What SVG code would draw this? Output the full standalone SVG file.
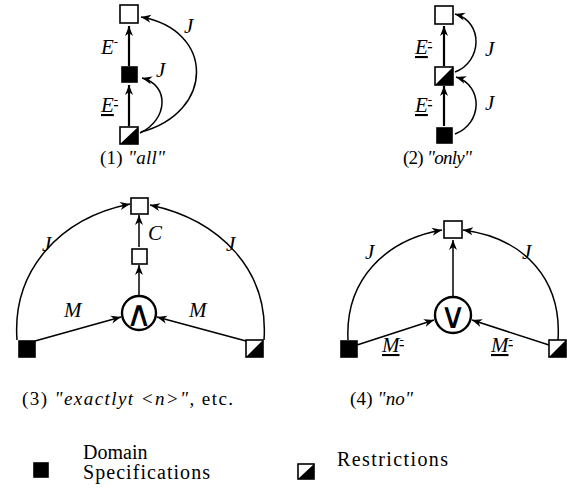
<svg xmlns="http://www.w3.org/2000/svg" width="567" height="496" viewBox="0 0 567 496">
<defs>
<marker id="ah" markerUnits="userSpaceOnUse" markerWidth="12" markerHeight="10" refX="10" refY="4" orient="auto" viewBox="0 0 12 8">
<path d="M0,0 L10,4 L0,8 L3,4 Z" fill="#000"/>
</marker>
<pattern id="half" width="1" height="1" patternContentUnits="objectBoundingBox">
<path d="M0,1 L1,0 L1,1 Z" fill="#000"/>
</pattern>
</defs>
<style>
.sq{fill:#fff;stroke:#000;stroke-width:1.6}
.bk{fill:#000;stroke:#000;stroke-width:1.6}
.hf{fill:url(#half);stroke:#000;stroke-width:1.6}
.ln{fill:none;stroke:#000;stroke-width:1.5;marker-end:url(#ah)}
.th{fill:none;stroke:#000;stroke-width:2.2;marker-end:url(#ah)}
.lb{font-family:"Liberation Serif",serif;font-style:italic;font-size:21px;fill:#000}
.cap{font-family:"Liberation Serif",serif;font-size:19px;fill:#000}
.leg{font-family:"Liberation Serif",serif;font-size:20px;fill:#000}
.it{font-style:italic}
.ci{fill:#fff;stroke:#000;stroke-width:2.4}
.op{font-family:"DejaVu Sans",sans-serif;font-size:36px;fill:#000;text-anchor:middle}
</style>
<g id="connectors">
<line class="th" x1="129" y1="66" x2="129" y2="26"/>
<line class="th" x1="129" y1="126" x2="129" y2="85"/>
<path class="ln" d="M141,132 C215,112 215,30 141,17"/>
<path class="ln" d="M140,133 C168,120 170,85 142,78"/>
<line class="th" x1="444" y1="66" x2="444" y2="26"/>
<line class="th" x1="444" y1="126" x2="444" y2="86"/>
<path class="ln" d="M455,72 C482,62 484,22 455,14"/>
<path class="ln" d="M455,134 C482,124 484,86 456,77"/>
<line class="ln" x1="139" y1="247" x2="139" y2="215"/>
<line class="ln" x1="139" y1="296" x2="139" y2="265"/>
<line class="ln" x1="35" y1="341" x2="121" y2="317"/>
<line class="ln" x1="246" y1="341" x2="157" y2="317"/>
<path class="ln" d="M17,340 C12,270 60,218 130,204"/>
<path class="ln" d="M264,340 C269,270 220,220 150,205"/>
<line class="ln" x1="453" y1="297" x2="453" y2="240"/>
<line class="ln" x1="357" y1="345" x2="434" y2="320"/>
<line class="ln" x1="549" y1="345" x2="472" y2="320"/>
<path class="ln" d="M348,340 C345,280 385,240 442,230"/>
<path class="ln" d="M558,340 C562,280 525,238 463,230"/>
</g>
<g id="p1-top"><rect class="sq" x="120" y="5" width="18" height="18"/></g>
<g id="p1-mid"><rect class="bk" x="122" y="67" width="15" height="15"/></g>
<g id="p1-bot"><rect class="hf" x="120" y="127" width="18" height="17"/></g>
<g id="p2-top"><rect class="sq" x="435" y="6" width="18" height="18"/></g>
<g id="p2-mid"><rect class="hf" x="435" y="67" width="18" height="18"/></g>
<g id="p2-bot"><rect class="bk" x="437" y="128" width="15" height="15"/></g>
<g id="p3-top"><rect class="sq" x="131" y="198" width="17" height="16"/></g>
<g id="p3-mid"><rect class="sq" x="132" y="249" width="15" height="15"/></g>
<g id="p3-and"><circle class="ci" cx="139" cy="313" r="17"/><text class="op" x="139" y="326">∧</text></g>
<g id="p3-left"><rect class="bk" x="19" y="341" width="16" height="16"/></g>
<g id="p3-right"><rect class="hf" x="246" y="340" width="17" height="17"/></g>
<g id="p4-top"><rect class="sq" x="444" y="221" width="18" height="17"/></g>
<g id="p4-or"><circle class="ci" cx="453" cy="315" r="18"/><text class="op" x="453" y="328">∨</text></g>
<g id="p4-left"><rect class="bk" x="341" y="341" width="16" height="16"/></g>
<g id="p4-right"><rect class="hf" x="549" y="340" width="17" height="17"/></g>
<g id="labels">
<text class="lb" x="101" y="54" font-size="19">E<tspan dy="-8" font-size="13" font-style="normal">-</tspan></text>
<text class="lb" x="101" y="112" font-size="19" text-decoration="underline">E<tspan dy="-8" font-size="13" font-style="normal">-</tspan></text>
<text class="lb" x="184" y="33">J</text>
<text class="lb" x="156" y="77">J</text>
<text class="lb" x="415" y="54" font-size="19" text-decoration="underline">E<tspan dy="-8" font-size="13" font-style="normal">-</tspan></text>
<text class="lb" x="415" y="112" font-size="19" text-decoration="underline">E<tspan dy="-8" font-size="13" font-style="normal">-</tspan></text>
<text class="lb" x="485" y="56">J</text>
<text class="lb" x="485" y="110">J</text>
<text class="lb" x="148" y="240">C</text>
<text class="lb" x="42" y="251">J</text>
<text class="lb" x="226" y="251">J</text>
<text class="lb" x="64" y="317">M</text>
<text class="lb" x="189" y="317">M</text>
<text class="lb" x="365" y="259">J</text>
<text class="lb" x="522" y="259">J</text>
<text class="lb" x="382" y="352" text-decoration="underline">M<tspan dy="-8" font-size="13" font-style="normal">-</tspan></text>
<text class="lb" x="491" y="352" text-decoration="underline">M<tspan dy="-8" font-size="13" font-style="normal">-</tspan></text>
</g>
<g id="captions">
<text class="cap" x="100" y="164" textLength="65" lengthAdjust="spacing">(1) <tspan class="it">"all"</tspan></text>
<text class="cap" x="403" y="164" textLength="69" lengthAdjust="spacing">(2) <tspan class="it">"only"</tspan></text>
<text class="cap" x="22" y="405" textLength="211" lengthAdjust="spacing">(3) <tspan class="it">"exactlyt &lt;n&gt;"</tspan>, etc.</text>
<text class="cap" x="350" y="405" textLength="63" lengthAdjust="spacing">(4) <tspan class="it">"no"</tspan></text>
</g>
<g id="legend">
<rect class="bk" x="34" y="463" width="14" height="14"/>
<text class="leg" x="83" y="459">Domain</text>
<text class="leg" x="83" y="479" textLength="127" lengthAdjust="spacing">Specifications</text>
<rect class="hf" x="298" y="464" width="16" height="15"/>
<text class="leg" x="337" y="466" textLength="111" lengthAdjust="spacing">Restrictions</text>
</g>
</svg>
